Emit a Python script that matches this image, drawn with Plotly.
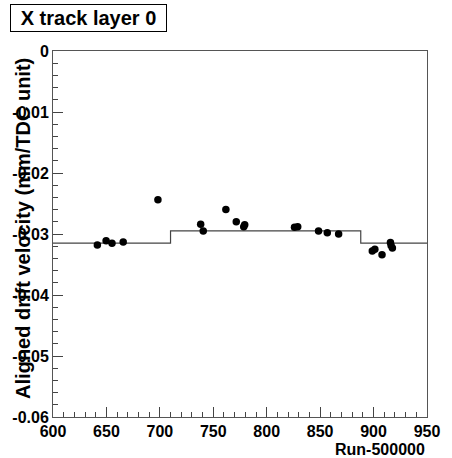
import plotly.graph_objects as go

run_x = [641.5, 649.7, 655.2, 665.7, 698.2, 738.2, 740.6, 761.8, 771.5, 778.5, 779.4,
         826.0, 829.0, 848.5, 856.7, 867.3, 898.8, 901.2, 907.9, 915.8, 917.6, 916.4]
velocity = [-0.0318, -0.0311, -0.0315, -0.0313, -0.0244, -0.0284, -0.0295, -0.0260, -0.0280, -0.0288, -0.0285,
            -0.0289, -0.0288, -0.0295, -0.0298, -0.0300, -0.0328, -0.0325, -0.0334, -0.0314, -0.0323, -0.0319]

step_x = [600, 710, 888, 950]
step_y = [-0.0315, -0.0295, -0.0315, -0.0315]

x_ticks = [600, 650, 700, 750, 800, 850, 900, 950]
y_ticks = [0, -0.01, -0.02, -0.03, -0.04, -0.05, -0.06]
y_tick_labels = ["0", "-0.01", "-0.02", "-0.03", "-0.04", "-0.05", "-0.06"]

FONT = "Liberation Sans, Arial, sans-serif"

fig = go.Figure()
fig.add_trace(go.Scatter(x=step_x, y=step_y, mode="lines", line=dict(shape="hv", color="#444", width=1.2),
                         hoverinfo="skip"))
fig.add_trace(go.Scatter(x=run_x, y=velocity, mode="markers", marker=dict(color="black", size=7.5)))

fig.update_layout(
    width=452, height=458,
    margin=dict(l=52, r=15, t=51, b=41),
    paper_bgcolor="white", plot_bgcolor="white",
    showlegend=False,
    xaxis=dict(range=[600, 950], tickvals=x_ticks, ticks="inside", ticklen=10, tickcolor="#444",
               showgrid=False, zeroline=False, showline=True, linecolor="#555", mirror=True,
               tickfont=dict(family=FONT, size=16, color="black", weight="bold"),
               minor=dict(ticks="inside", ticklen=5, dtick=10, tickcolor="#444", showgrid=False)),
    yaxis=dict(range=[-0.06, 0], tickvals=y_ticks, ticktext=y_tick_labels, ticks="inside", ticklen=10,
               tickcolor="#444", showgrid=False, zeroline=False, showline=True, linecolor="#555", mirror=True,
               tickfont=dict(family=FONT, size=16, color="black", weight="bold"),
               minor=dict(ticks="inside", ticklen=5, dtick=0.002, tickcolor="#444", showgrid=False)),
)

fig.add_annotation(text="X track layer 0", xref="paper", yref="paper", x=(8-52)/385, y=1+(51-4)/366,
                   xanchor="left", yanchor="top", showarrow=False, width=155, height=26, align="center",
                   font=dict(family=FONT, size=20, color="black", weight="bold"),
                   bordercolor="black", borderwidth=1, borderpad=0, bgcolor="white")
fig.add_annotation(text="Aligned drift velocity (mm/TDC unit)", xref="paper", yref="paper",
                   x=(21-52)/385, y=(417-228)/366, xanchor="center", yanchor="middle", textangle=-90,
                   showarrow=False, font=dict(family=FONT, size=20, color="black", weight="bold"))
fig.add_annotation(text="Run-500000", xref="paper", yref="paper", x=1, y=-32/366,
                   xanchor="right", yanchor="middle", showarrow=False,
                   font=dict(family=FONT, size=16, color="black", weight="bold"))

fig.write_html("out.html")
